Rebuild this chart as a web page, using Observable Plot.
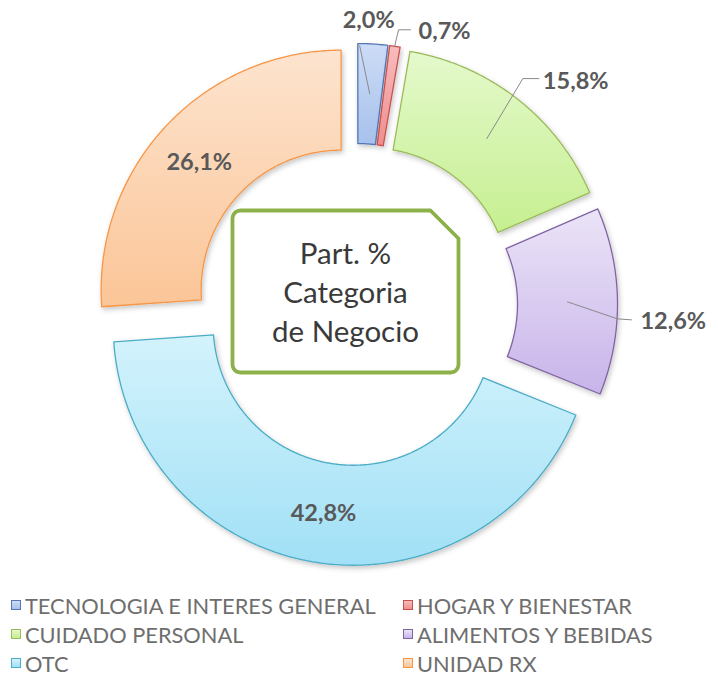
<!DOCTYPE html>
<html>
<head>
<meta charset="utf-8">
<script src="https://cdn.jsdelivr.net/npm/d3@7"></script>
<script src="https://cdn.jsdelivr.net/npm/@observablehq/plot@0.6"></script>
<style>
  html, body { margin: 0; padding: 0; background: #ffffff; }
  #chart { width: 718px; }
  #chart svg { display: block; }
  .legend { display: grid; grid-template-columns: 392px 300px; margin-left: 11px; margin-top: 13px;
            font-family: Lato, "Open Sans", sans-serif; font-size: 21.8px; color: #6e6e6e; row-gap: 5px; }
  .legend div { display: flex; align-items: center; height: 24px; white-space: nowrap; }
  .legend span.sw { width: 10px; height: 10px; margin-right: 4px; border: 1px solid; box-sizing: border-box; }
</style>
</head>
<body>
<div id="chart"></div>
<script>
// ---- data ----
const categories = ["TECNOLOGIA E INTERES GENERAL", "HOGAR Y BIENESTAR", "CUIDADO PERSONAL",
                    "ALIMENTOS Y BEBIDAS", "OTC", "UNIDAD RX"];
const shares = [2.0, 0.7, 15.8, 12.6, 42.8, 26.1];
const centerTitle = ["Part. %", "Categoria", "de Negocio"];

// ---- styles ----
const gradTop    = ["#cddcf6", "#f8bcbc", "#e4f9cc", "#ebe4f7", "#d3f3fc", "#fde4cf"];
const gradBottom = ["#a6c1ec", "#ee8e8e", "#c6ef90", "#c8b4ea", "#a1e0f6", "#fbc597"];
const strokes    = ["#5677b3", "#c9504d", "#9bbb59", "#8064a2", "#4bacc6", "#f79646"];
const labelStyle = [ // leader offsets (px, relative to slice centroid) and label placement
  {leader: [[0, 0], [-10, -48]], at: [-1, -73], anchor: "middle"},
  {leader: [[7, -49], [11, -66], [23, -66]], at: [31, -64], anchor: "start"},
  {leader: [[0, 0], [36, -60], [52, -60]], at: [56, -57], anchor: "start"},
  {leader: [[0, 0], [50, 17], [64, 18]], at: [73, 20], anchor: "start"},
  {leader: null, at: [0, 1], anchor: "middle"},
  {leader: null, at: [-3, 2], anchor: "middle"}
];

// ---- layout ----
const W = 718, H = 580;
const CX = 356, CY = 304, R = 240;
const inner = 140 / R, explode = 21 / R;
const px = v => v / R;

const total = d3.sum(shares);
const fmt = v => d3.format(".1f")(v).replace(".", ",") + "%";
let acc = 0;
const slices = categories.map((c, i) => {
  const a0 = acc / total * 2 * Math.PI; acc += shares[i];
  const a1 = acc / total * 2 * Math.PI;
  const mid = (a0 + a1) / 2;
  const ox = explode * Math.sin(mid), oy = -explode * Math.cos(mid);
  const pt = (a, r) => ({x: ox + r * Math.sin(a), y: oy - r * Math.cos(a)});
  const n = Math.max(4, Math.ceil((a1 - a0) / (Math.PI / 360)));
  const pts = [];
  for (let k = 0; k <= n; k++) pts.push(pt(a0 + (a1 - a0) * k / n, 1));
  for (let k = n; k >= 0; k--) pts.push(pt(a0 + (a1 - a0) * k / n, inner));
  const cen = pt(mid, (1 + inner) / 2);
  return {c, i, value: shares[i], label: fmt(shares[i]), pts, cen, anchor: labelStyle[i].anchor};
});

// centre box (px relative to donut centre)
const box = {l: -124, r: 102, t: -94, b: 68, chamfer: 28, round: 8};
function boxPoints() {
  const p = [];
  const arc = (cx, cy, s, e) => { for (let k = 0; k <= 6; k++) { const a = s + (e - s) * k / 6;
    p.push({x: px(cx + box.round * Math.cos(a)), y: px(cy + box.round * Math.sin(a))}); } };
  arc(box.l + box.round, box.t + box.round, Math.PI, 1.5 * Math.PI);
  p.push({x: px(box.r - box.chamfer), y: px(box.t)});
  p.push({x: px(box.r), y: px(box.t + box.chamfer)});
  arc(box.r - box.round, box.b - box.round, 0, 0.5 * Math.PI);
  arc(box.l + box.round, box.b - box.round, 0.5 * Math.PI, Math.PI);
  return p;
}

const marks = [];
slices.forEach(s => {
  marks.push(Plot.line(s.pts, {x: "x", y: "y", curve: "linear-closed", fill: gradBottom[s.i],
    stroke: strokes[s.i], strokeWidth: 1.3}));
});
marks.push(Plot.line(boxPoints(), {x: "x", y: "y", curve: "linear-closed", fill: "#ffffff",
  stroke: "#8db14a", strokeWidth: 3.8}));
marks.push(Plot.text([centerTitle.join("\n")], {x: px(-11), y: px(-14), text: d => d,
  fontSize: 29.5, lineHeight: 1.32, fill: "#3a3a3a", textAnchor: "middle"}));
slices.forEach(s => {
  const L = labelStyle[s.i];
  if (L.leader) {
    const pts = L.leader.map(([dx, dy]) => ({x: s.cen.x + px(dx), y: s.cen.y + px(dy)}));
    marks.push(Plot.line(pts, {x: "x", y: "y", stroke: "#8a8a8a", strokeWidth: 1}));
  }
});
for (const anchor of ["start", "middle"]) {
  marks.push(Plot.text(slices.filter(s => s.anchor === anchor), {
    x: s => s.cen.x + px(labelStyle[s.i].at[0]),
    y: s => s.cen.y + px(labelStyle[s.i].at[1]),
    text: "label", textAnchor: anchor,
    fontSize: 23.5, fontWeight: "bold", fill: "#595959"
  }));
}

const plot = Plot.plot({
  width: W, height: H, margin: 0,
  style: {fontFamily: "Lato, 'Open Sans', sans-serif", background: "#ffffff"},
  x: {domain: [-CX / R, (W - CX) / R], range: [0, W], axis: null},
  y: {domain: [-CY / R, (H - CY) / R], range: [0, H], axis: null},
  marks
});

const svg = d3.select(plot);
const defs = svg.insert("defs", ":first-child");
const f = defs.append("filter").attr("id", "shadow").attr("x", "-10%").attr("y", "-10%")
  .attr("width", "130%").attr("height", "130%");
f.append("feDropShadow").attr("dx", 1.5).attr("dy", 2.5).attr("stdDeviation", 2.5)
  .attr("flood-color", "#000").attr("flood-opacity", 0.22);
categories.forEach((c, i) => {
  const g = defs.append("linearGradient").attr("id", `grad${i}`)
    .attr("x1", 0).attr("y1", 0).attr("x2", 0).attr("y2", 1);
  g.append("stop").attr("offset", "0%").attr("stop-color", gradTop[i]);
  g.append("stop").attr("offset", "100%").attr("stop-color", gradBottom[i]);
  // swap the flat fill of each slice mark for its gradient
  svg.selectAll("[fill]").filter(function () {
    return (this.getAttribute("fill") || "").toLowerCase() === gradBottom[i];
  }).attr("fill", `url(#grad${i})`).attr("filter", "url(#shadow)");
});

document.getElementById("chart").appendChild(plot);

// legend
const leg = d3.select("#chart").append("div").attr("class", "legend");
categories.forEach((c, i) => {
  const item = leg.append("div");
  item.append("span").attr("class", "sw")
    .style("border-color", strokes[i])
    .style("background", `linear-gradient(${gradTop[i]}, ${gradBottom[i]})`);
  item.append("span").text(c);
});
</script>
</body>
</html>
